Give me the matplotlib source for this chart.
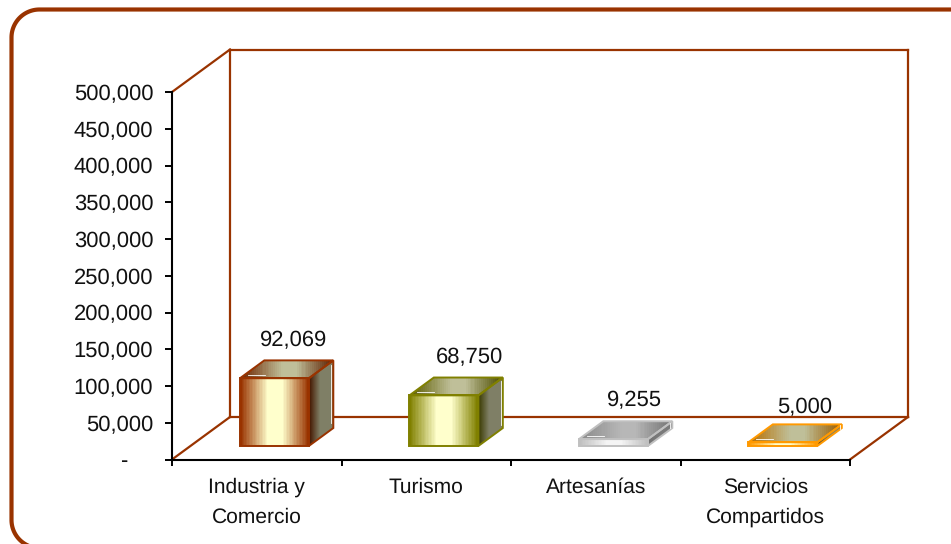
import numpy as np
import matplotlib
matplotlib.use("Agg")
import matplotlib.pyplot as plt
from matplotlib.colors import LinearSegmentedColormap, to_rgb
from matplotlib.patches import Polygon
from matplotlib.ticker import FuncFormatter

plt.rcParams['font.family'] = ['Liberation Sans', 'DejaVu Sans']
plt.rcParams['text.hinting'] = 'no_hinting'
plt.rcParams['text.hinting_factor'] = 1

categories = ["Industria y\nComercio", "Turismo", "Artesanías", "Servicios\nCompartidos"]
values = [92069, 68750, 9255, 5000]
edge_colors = ["#993300", "#808000", "#C0C0C0", "#FF9900"]
mid_colors = ["#FFFFCC", "#FFFFCC", "#F4F4F4", "#FFFFCC"]
y_ticks = list(range(0, 500001, 50000))

W, H = 951, 544
BROWN = "#993300"
fig = plt.figure(figsize=(W / 100, H / 100), dpi=100, facecolor="white")
ax = fig.add_axes([172 / W, (H - 459.5) / H, 678 / W, 367.5 / H])
ax.patch.set_alpha(0)

DX = 58 / 678 * 4
DY = 42.5 / 367.5 * 500000
BAR_W = 0.407
BAR_SHIFT = -0.005
D0, D1 = 0.32, 0.74
label_nudge = [(-3.5, 14), (0.8, 14.5), (-2.2, 15), (-2.2, 12)]

def proj(x, y, d):
    return x + d * DX, y + d * DY

def shade(c, f):
    return tuple(np.array(to_rgb(c)) * f)

def grad_poly(pts, stops, z):
    cmap = LinearSegmentedColormap.from_list("g", stops, N=48)
    pts = np.array(pts)
    im = ax.imshow(np.linspace(0, 1, 256)[None, :], cmap=cmap, aspect="auto",
                   extent=[pts[:, 0].min(), pts[:, 0].max(), pts[:, 1].min(), pts[:, 1].max()],
                   interpolation="nearest", zorder=z, clip_on=True)
    im.set_clip_path(Polygon(pts, closed=True, transform=ax.transData))

def wall_line(p, q):
    ax.plot([p[0], q[0]], [p[1], q[1]], color=BROWN, lw=1.6, clip_on=False,
            solid_capstyle="projecting", zorder=1)

ymax = y_ticks[-1]
wall_line(proj(0, ymax, 0), proj(0, ymax, 1))
wall_line(proj(0, 0, 0), proj(0, 0, 1))
wall_line(proj(4, 0, 0), proj(4, 0, 1))
wall_line(proj(0, 0, 1), proj(0, ymax, 1))
wall_line(proj(0, ymax, 1), proj(4, ymax, 1))
wall_line(proj(4, ymax, 1), proj(4, 0, 1))
wall_line(proj(4, 0, 1), proj(0, 0, 1))

for i, (v, ec, mc) in enumerate(zip(values, edge_colors, mid_colors)):
    xc = i + 0.5 + BAR_SHIFT
    xl, xr = xc - BAR_W / 2, xc + BAR_W / 2
    f00 = proj(xl, 0, D0); f10 = proj(xr, 0, D0); f11 = proj(xr, v, D0); f01 = proj(xl, v, D0)
    b10 = proj(xr, 0, D1); b11 = proj(xr, v, D1); b01 = proj(xl, v, D1)
    front = [f00, f10, f11, f01]
    top = [f01, f11, b11, b01]
    side = [f10, b10, b11, f11]
    stops = [(0, ec), (0.4, mc), (0.62, mc), (1, ec)]
    grad_poly(front, stops, 3)
    grad_poly(top, [(0, shade(ec, .72)), (0.45, shade(mc, .75)), (0.6, shade(mc, .75)), (1, shade(ec, .6))], 3)
    grad_poly(side, [(0, shade(ec, .45) if i != 2 else shade(ec, .6)), (0.45, shade(mc, .5)), (1, shade(mc, .5))], 3)
    for poly in (front, top, side):
        ax.add_patch(Polygon(poly, closed=True, fill=False, edgecolor=ec, lw=1.4,
                             joinstyle="miter", clip_on=False, zorder=4))
    hl = dict(color="white", lw=0.6, zorder=5)
    ax.plot(*zip(proj(xr - 0.004, v * 0.08, D1 - .02), proj(xr - 0.004, v * 0.94, D1 - .02)), **hl)
    ax.plot(*zip(proj(xl + 0.02, v, D0 + .08), proj(xl + 0.12, v, D0 + .08)), **hl)
    ax.annotate(f"{v:,}", xy=proj(xc, v, D1), xytext=label_nudge[i], textcoords="offset points",
                ha="center", va="center", fontsize=15.9, color="#111111", zorder=6, annotation_clip=False)

ax.set_xlim(0, 4)
ax.set_ylim(0, ymax)
ax.set_xticks(range(5))
ax.set_xticklabels([])
ax.set_xticks([i + 0.5 for i in range(4)], minor=True)
ax.set_xticklabels(categories, minor=True, fontsize=15.2, color="#111111", linespacing=1.7)
ax.tick_params(axis="x", which="minor", length=0, pad=13)
ax.tick_params(axis="x", which="major", length=4.5, width=1.4, color="black")
ax.set_yticks(y_ticks)
ax.yaxis.set_major_formatter(FuncFormatter(lambda t, _: "-    " if t == 0 else f"{int(t):,}"))
ax.tick_params(axis="y", length=5, width=1.4, pad=8.5, labelsize=15.9, labelcolor="#111111")
for s in ("top", "right"):
    ax.spines[s].set_visible(False)
for s in ("left", "bottom"):
    ax.spines[s].set_linewidth(1.5)
    ax.spines[s].set_color("black")

# outer rounded frame as a polyline in pixel coordinates
ov = fig.add_axes([0, 0, 1, 1], zorder=10)
ov.set_xlim(0, W); ov.set_ylim(H, 0); ov.axis("off"); ov.patch.set_alpha(0)
def arc(cx, cy, r, a0, a1):
    t = np.radians(np.linspace(a0, a1, 40))
    return np.c_[cx + r * np.cos(t), cy + r * np.sin(t)]
L, T, R, B, r = 11.5, 9.5, 960.0, 548.0, 28
outline = np.vstack([arc(L + r, B - r, r, 90, 180), arc(L + r, T + r, r, 180, 270), [[R, T]]])
ov.plot(outline[:, 0], outline[:, 1], color=BROWN, lw=3, solid_joinstyle="round")

fig.savefig("out.png", dpi=100)
